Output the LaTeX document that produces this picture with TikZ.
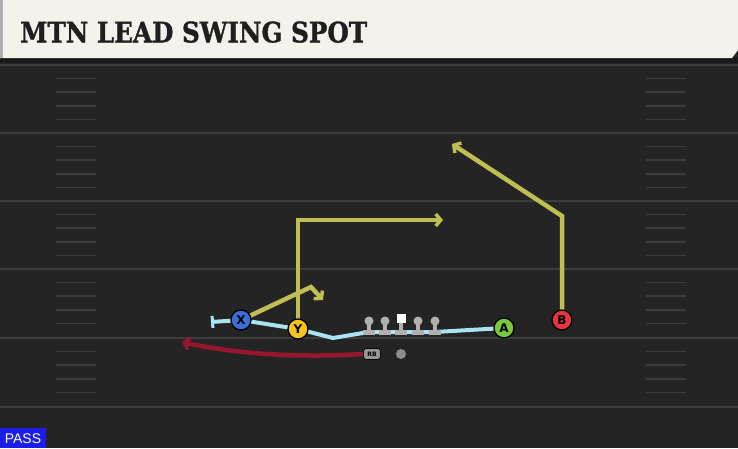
\documentclass[tikz,border=0pt]{standalone}
\usepackage{fontspec}
\setsansfont{DejaVu Sans}
\newfontfamily\titlefont{DejaVu Serif}[FakeBold=1.2]
\newfontfamily\tagfont{Liberation Sans}
\usetikzlibrary{arrows.meta,backgrounds}

\definecolor{field}{RGB}{36,36,36}
\definecolor{yard}{RGB}{60,60,60}
\definecolor{banner}{RGB}{245,242,236}
\definecolor{routecol}{RGB}{190,190,82}
\definecolor{blockcol}{RGB}{168,228,242}
\definecolor{runcol}{RGB}{150,22,48}
\definecolor{xblue}{RGB}{60,110,215}
\definecolor{yyellow}{RGB}{245,196,30}
\definecolor{agreen}{RGB}{120,200,65}
\definecolor{bred}{RGB}{228,52,60}
\definecolor{linegray}{RGB}{176,176,176}
\definecolor{passblue}{RGB}{28,28,235}

\tikzset{
  yardline/.style={line width=2.5pt, color=yard},
  hashmark/.style={line width=1.6pt, color=yard},
  player/.style={circle, draw=black, line width=1.3pt, minimum size=20pt, inner sep=0pt,
    font=\sffamily\bfseries\fontsize{12}{12}\selectfont},
  route/.style={line width=4.5pt, color=routecol, line join=miter,
    -{Straight Barb[length=5pt,width=12pt,line width=3.5pt]}},
  block/.style={line width=4pt, color=blockcol, line join=round},
  runroute/.style={line width=4.5pt, color=runcol, -{Straight Barb[length=5pt,width=12pt,line width=3.5pt]}},
  lhead/.style={circle, fill=linegray, minimum size=9pt, inner sep=0pt},
  lbase/.style={rectangle, fill=linegray, minimum width=12pt, minimum height=5pt, inner sep=0pt},
}

\begin{document}
\begin{tikzpicture}[x=1pt,y=-1pt]
\useasboundingbox (0,0) rectangle (738,448);

% players
\node[player, fill=xblue] (x) at (241,320) {X};
\node[player, fill=yyellow] (y) at (298,329) {Y};
\node[player, fill=agreen] (a) at (504,328) {A};
\node[player, fill=bred] (b) at (562,320) {B};

% line
\foreach \i/\x in {1/369,2/385,4/418,5/435}{
  \fill[linegray] (\x-2,321) rectangle (\x+2,332);
  \node[lbase] (base\i) at (\x,332) {};
  \node[lhead] (ol\i) at (\x,321) {};
}
\fill[linegray] (399,321) rectangle (403,332);
\node[lbase] (base3) at (401,332) {};
\node[rectangle, fill=white, minimum size=9pt, inner sep=0pt] (c) at (401,318.5) {};

% backfield
\node[rectangle, rounded corners=3pt, fill=linegray!85!black, draw=black, line width=0.6pt,
  minimum width=17pt, minimum height=11pt, inner sep=0pt,
  font=\sffamily\bfseries\fontsize{6}{6}\selectfont] (rb) at (372,354) {RB};
\node[circle, fill=linegray!80!black, minimum size=10pt, inner sep=0pt] (qb) at (401,354) {};

\begin{pgfonlayer}{background}
\fill[field] (0,0) rectangle (738,448);
\foreach \yl in {65,133,201,269,338,407}{
  \draw[yardline] (0,\yl) -- (738,\yl);
}
\foreach \yl in {65,133,201,269,338}{
  \foreach \k in {1,...,4}{
    \draw[hashmark] (56,{\yl+13.6*\k}) -- (96,{\yl+13.6*\k});
    \draw[hashmark] (646,{\yl+13.6*\k}) -- (686,{\yl+13.6*\k});
  }
}

% routes
\coordinate (tcap) at (211,322);
\coordinate (dip) at (333,338);
\coordinate (xbreak) at (311,287);
\coordinate (xend) at (323,300);
\coordinate (ycorner) at (298,220);
\coordinate (yend) at (443,220);
\coordinate (bcorner) at (562,216);
\coordinate (bend) at (452,144);
\coordinate (rbend) at (182,342);

\draw[block, {Bar[width=12pt,line width=3pt]}-] (tcap) -- (x.center) -- (y.center) -- (dip) -- (base1.center) -- (base5.center) -- (a.center);
\draw[route] (x.center) -- (xbreak) -- (xend);
\draw[route] (y.center) -- (ycorner) -- (yend);
\draw[route] (b.center) -- (bcorner) -- (bend);
\draw[runroute] (rb.west) .. controls (300,358) and (235,354) .. (rbend);
\end{pgfonlayer}

% banner
\fill[black!90] (0,57) rectangle (738,63);
\fill[banner] (0,0) -- (738,0) -- (738,50) -- (732,58) -- (0,58) -- cycle;
\fill[linegray] (0,0) rectangle (3,58);
\node[anchor=south west, inner sep=0pt, text=black!88] (title) at (20,43)
  {\resizebox{347pt}{21pt}{\titlefont\bfseries MTN LEAD SWING SPOT}};

% tag
\fill[passblue] (0,428) rectangle (46,448);
\node[text=white, font=\tagfont\fontsize{14}{14}\selectfont, inner sep=0pt] (pass) at (23,439) {PASS};
\end{tikzpicture}
\end{document}
